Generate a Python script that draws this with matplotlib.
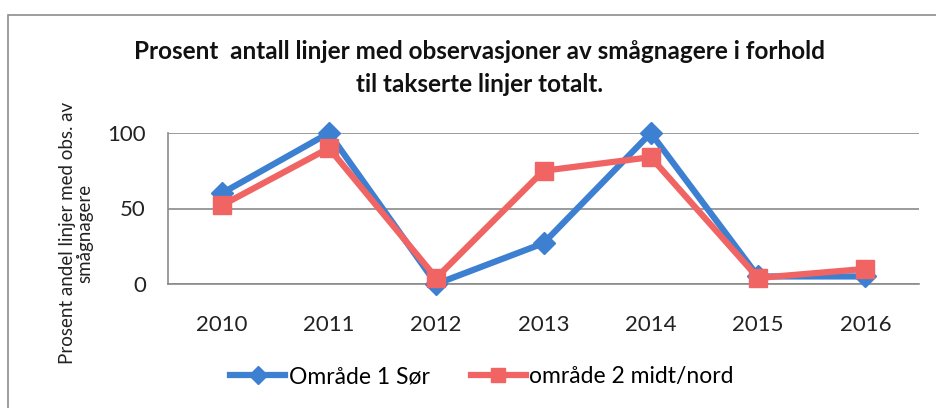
import matplotlib.pyplot as plt
from matplotlib.patches import Rectangle

# Data lest av fra figuren
aar = ['2010', '2011', '2012', '2013', '2014', '2015', '2016']
omr1_sor = [60, 100, 0, 27, 100, 5, 5]
omr2_midt_nord = [52, 90, 4, 75, 84, 4, 10]

plt.rcParams['font.family'] = ['Lato', 'DejaVu Sans']

fig = plt.figure(figsize=(9.36, 4.08), dpi=100)
ax = fig.add_axes([168 / 936, 1 - 284 / 408, (919 - 168) / 936, (284 - 133) / 408])

# Ramme rundt diagrammet
fig.patches.append(Rectangle((8 / 936, -0.1), 1.2, 1 - 15 / 408 + 0.1,
                             transform=fig.transFigure, fill=False,
                             edgecolor='#8c8c8c', linewidth=1.2))

x = range(len(aar))
ax.plot(x, omr1_sor, color='#3d7fd1', linewidth=4.5, marker='D', markersize=11,
        label='Område 1 Sør', zorder=3, clip_on=False)
ax.plot(x, omr2_midt_nord, color='#f06464', linewidth=4.5, marker='s', markersize=13,
        label='område 2 midt/nord', zorder=4, clip_on=False)

ax.set_xlim(-0.5, len(aar) - 0.5)
ax.set_ylim(0, 100)
ax.set_yticks([0, 50, 100])
ax.set_xticks(list(x))
ax.set_xticklabels(aar)
ax.tick_params(axis='both', length=0, labelsize=16, colors='#222222')
ax.tick_params(axis='x', pad=22)
ax.tick_params(axis='y', pad=16)

ax.grid(axis='y', color='#8a8a8a', linewidth=1.2)
ax.set_axisbelow(True)
for s in ['top', 'right']:
    ax.spines[s].set_visible(False)
ax.spines['left'].set_color('#8a8a8a')
ax.spines['bottom'].set_color('#8a8a8a')
ax.spines['left'].set_linewidth(1.2)
ax.spines['bottom'].set_linewidth(1.2)

fig.text(76 / 936, 1 - 233 / 408, 'Prosent andel linjer med obs. av\nsmågnagere',
         rotation=90, ha='center', va='center', fontsize=13.5, color='#222222',
         linespacing=1.05)

fig.text(480 / 936, 1 - 68 / 408, 'Prosent  antall linjer med observasjoner av smågnagere i forhold\ntil takserte linjer totalt.',
         ha='center', va='center', fontsize=17.5, fontweight='bold', color='#111111',
         linespacing=1.5)

fig.legend(loc='center', bbox_to_anchor=(482 / 936, 1 - 377 / 408), ncol=2,
           frameon=False, fontsize=16.5, handlelength=2.4, columnspacing=1.8,
           handletextpad=0.15, markerscale=0.8)

plt.savefig('out.png', dpi=100)
